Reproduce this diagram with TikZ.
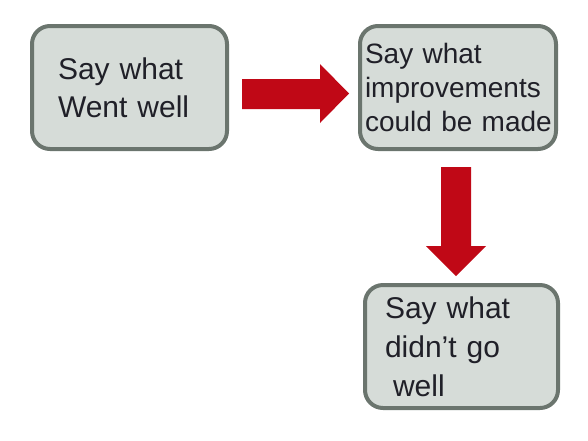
\documentclass[tikz,border=0pt]{standalone}
\usepackage{fontspec}
\setmainfont{Liberation Sans}
\definecolor{boxfill}{RGB}{214,220,216}
\definecolor{boxline}{RGB}{107,117,110}
\definecolor{arrred}{RGB}{192,8,22}
\definecolor{txt}{RGB}{32,32,40}
\tikzset{
  stagebox/.style={draw=boxline, fill=boxfill, line width=4pt, rounded corners=18pt,
    align=left, text=txt, inner ysep=0pt, anchor=center},
  blockarrow/.style={fill=arrred, draw=none}
}
\begin{document}
\begin{tikzpicture}[x=1pt,y=-1pt]
\useasboundingbox (0,0) rectangle (588,440);
\node[stagebox, minimum height=123pt, text width=143pt, inner xsep=26pt,
  font=\fontsize{30}{38}\selectfont] (went) at (129.5,87.5) {Say what\\Went well};
\node[stagebox, minimum height=123pt, text width=186pt, inner xsep=5pt,
  font=\fontsize{28}{34}\selectfont] (impr) at (458,87.5) {\mbox{Say what}\\\mbox{improvements}\\\mbox{could be made}};
\node[stagebox, minimum height=123pt, text width=153pt, inner xsep=20pt,
  font=\fontsize{30}{39}\selectfont] (didnt) at (461.5,346.5) {Say what\\didn’t go\\\hspace*{8pt}well};
\path[blockarrow] (242,79) -- (320,79) -- (320,64) -- (349,93.5) -- (320,123) -- (320,109) -- (242,109) -- cycle;
\path[blockarrow] (441,167) -- (471,167) -- (471,246) -- (486,246) -- (456,276) -- (426,246) -- (441,246) -- cycle;
\end{tikzpicture}
\end{document}
